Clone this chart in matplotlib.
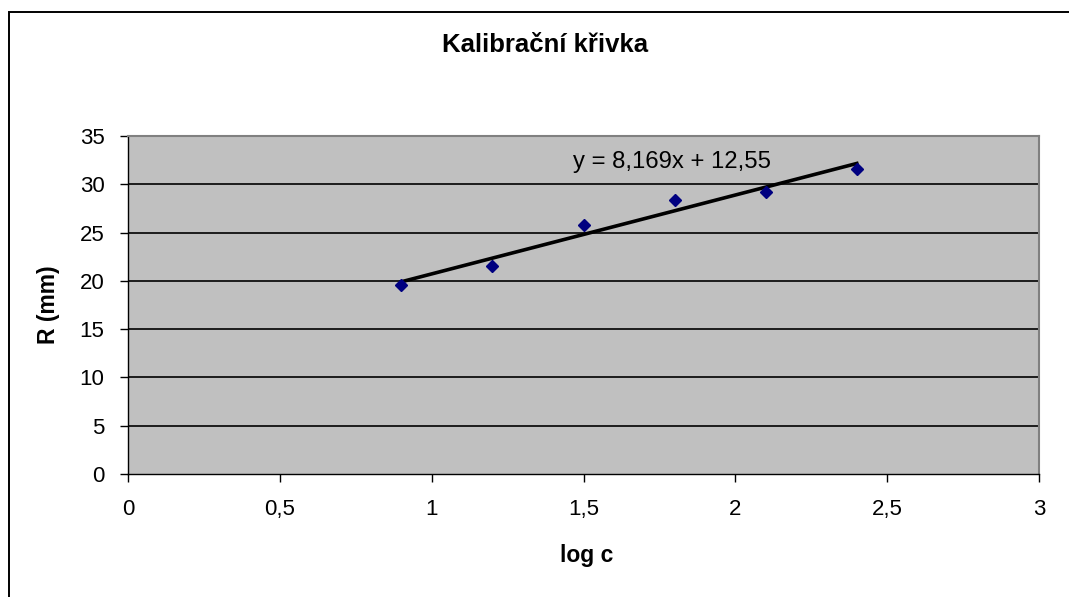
import numpy as np
import matplotlib
matplotlib.use("Agg")
import matplotlib.pyplot as plt
from matplotlib.patches import Rectangle

log_c = [0.9, 1.2, 1.5, 1.8, 2.1, 2.4]
r_mm = [19.55, 21.55, 25.75, 28.35, 29.2, 31.55]
slope = 8.169
intercept = 12.55
x_ticks = [0, 0.5, 1, 1.5, 2, 2.5, 3]
x_labels = ["0", "0,5", "1", "1,5", "2", "2,5", "3"]
y_ticks = [0, 5, 10, 15, 20, 25, 30, 35]

plt.rcParams["font.family"] = ["Liberation Sans", "DejaVu Sans"]

W, H = 1069, 597
fig = plt.figure(figsize=(W / 100, H / 100), dpi=100)

# outer chart border (cropped at right/bottom)
fig.patches.append(Rectangle((9 / W, -0.1), 1.2, 1 - 12 / H + 0.1,
                             transform=fig.transFigure, fill=False,
                             edgecolor="black", linewidth=1.4))

ax = fig.add_axes([128 / W, 1 - 474 / H, (1039 - 128) / W, (474 - 136) / H])
ax.set_facecolor("#C0C0C0")
ax.set_xlim(0, 3)
ax.set_ylim(0, 35)

for v in y_ticks[1:-1]:
    ax.axhline(v, color="black", linewidth=1.2, zorder=1)

# trendline
xl = np.array([min(log_c), max(log_c)])
ax.plot(xl, slope * xl + intercept, color="black", linewidth=2.6, zorder=2)

ax.plot(log_c, r_mm, linestyle="none", marker="D", markersize=6,
        color="#000080", zorder=3)

fig.text(573 / W, 1 - 168 / H, "y = 8,169x + 12,55", fontsize=17.2,
         ha="left", va="baseline")

ax.spines["top"].set_color("#808080")
ax.spines["right"].set_color("#808080")
ax.spines["top"].set_linewidth(1.5)
ax.spines["right"].set_linewidth(1.5)
ax.spines["left"].set_linewidth(1.0)
ax.spines["bottom"].set_linewidth(1.0)

ax.set_xticks(x_ticks)
ax.set_xticklabels(x_labels)
ax.set_yticks(y_ticks)
ax.tick_params(axis="both", direction="out", length=6, width=1, labelsize=16)
ax.tick_params(axis="y", pad=11)
ax.tick_params(axis="x", pad=12)

fig.text(545 / W, 1 - 52 / H, "Kalibrační křivka", fontsize=18.5,
         fontweight="bold", ha="center", va="baseline")
fig.text(587 / W, 1 - 562 / H, "log c", fontsize=16.5, fontweight="bold",
         ha="center", va="baseline")
fig.text(48 / W, 1 - 305 / H, "R (mm)", fontsize=16.5, fontweight="bold",
         ha="center", va="center", rotation=90)

fig.savefig("out.png", dpi=100)
